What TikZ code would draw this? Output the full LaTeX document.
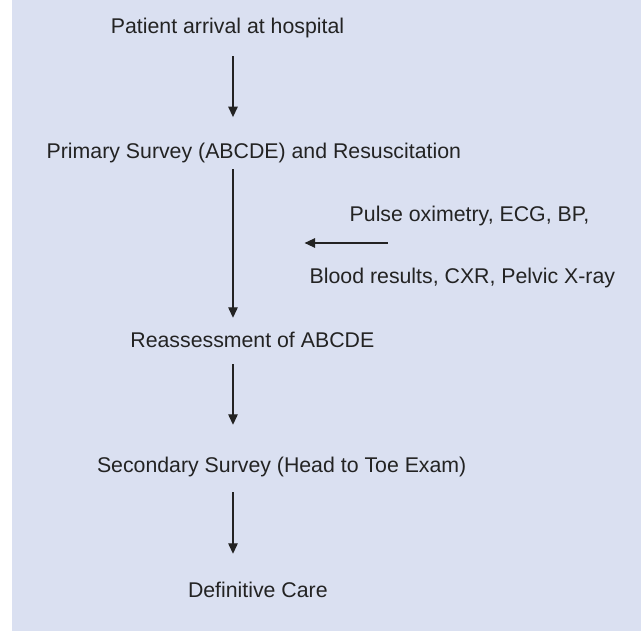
\documentclass[tikz,border=0pt]{standalone}
\usepackage{fontspec}
\setmainfont{Liberation Sans}
\usetikzlibrary{arrows.meta}
\definecolor{bgc}{RGB}{218,224,241}
\definecolor{ink}{RGB}{35,35,35}
\begin{document}
\begin{tikzpicture}[x=1pt,y=1pt,
  lbl/.style={anchor=base west,inner sep=0pt,text height=15.5pt,text depth=4.5pt,
    text=ink,font=\fontsize{21.3}{25}\selectfont},
  arr/.style={draw=ink,line width=1.3pt,-{Triangle[length=10.5pt,width=9.5pt]}}]
\useasboundingbox (0,0) rectangle (641,-631);
\fill[bgc] (12,0) rectangle (641,-631);
\node[lbl] (p1) at (110.7,-33.3) {Patient arrival at hospital};
\node[lbl] (p2) at (46.5,-158.3) {Primary Survey (ABCDE) and Resuscitation};
\node[lbl] (pulse) at (349.5,-221.7) {Pulse oximetry, ECG, BP,};
\node[lbl] (blood) at (309.5,-283.3) {Blood results, CXR, Pelvic X-ray};
\node[lbl] (p3) at (130.2,-347.3) {Reassessment of ABCDE};
\node[lbl] (p4) at (96.8,-472.3) {Secondary Survey (Head to Toe Exam)};
\node[lbl] (p5) at (187.8,-597.3) {Definitive Care};
\coordinate (ax) at (233,0);
\coordinate (hs) at (387.6,-243);
\coordinate (hm) at (233,-243);
\draw[arr,shorten <=18.2pt,shorten >=25.5pt] (p1.south -| ax) -- (p2.north -| ax);
\draw[arr,shorten <=6.2pt,shorten >=13.8pt] (p2.south -| ax) -- (p3.north -| ax);
\draw[arr,shorten <=12.2pt,shorten >=31.8pt] (p3.south -| ax) -- (p4.north -| ax);
\draw[arr,shorten <=15.2pt,shorten >=27.8pt] (p4.south -| ax) -- (p5.north -| ax);
\draw[arr,shorten >=71.6pt] (hs) -- (hm);
\end{tikzpicture}
\end{document}
